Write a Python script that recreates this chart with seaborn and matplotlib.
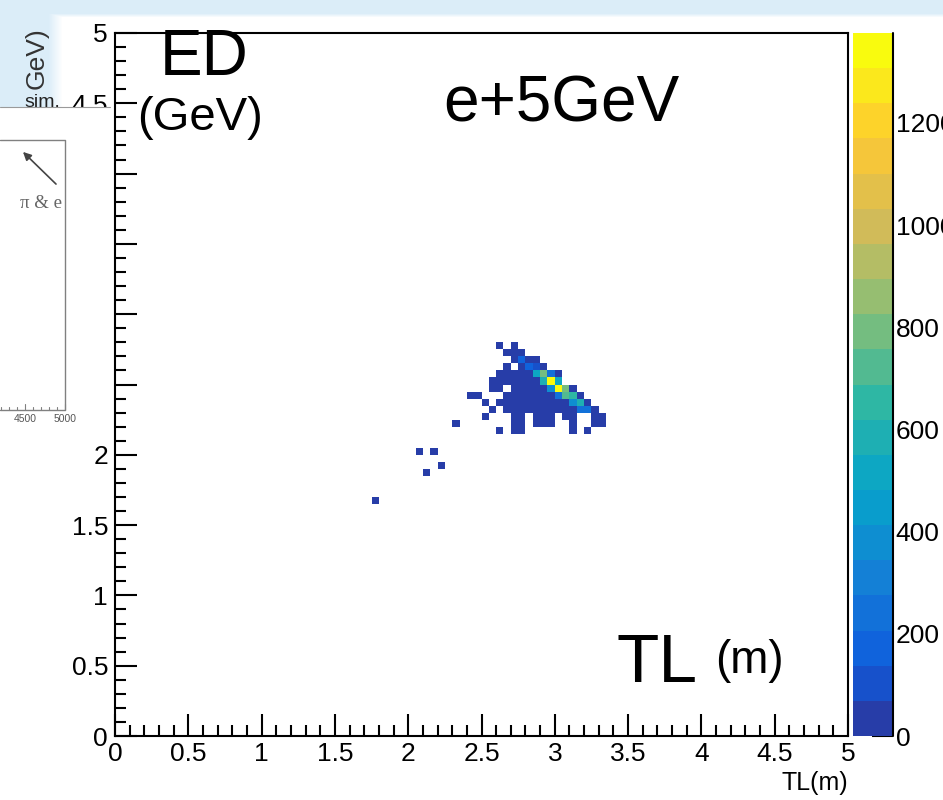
import numpy as np
import pandas as pd
import matplotlib
matplotlib.use("Agg")
import matplotlib.pyplot as plt
import seaborn as sns
from matplotlib.colors import ListedColormap, LinearSegmentedColormap
from matplotlib.patches import Rectangle, FancyArrowPatch
from matplotlib.lines import Line2D
from matplotlib.ticker import MultipleLocator, FuncFormatter

# ---------------- data ----------------
tl_centers = [2.275, 2.325, 2.375, 2.425, 2.475, 2.525, 2.575, 2.625, 2.675, 2.725, 2.775,
              2.825, 2.875, 2.925, 2.975, 3.025, 3.075, 3.125, 3.175, 3.225, 3.275, 3.325]
ed_centers = [2.775, 2.725, 2.675, 2.625, 2.575, 2.525, 2.475, 2.425, 2.375, 2.325,
              2.275, 2.225, 2.175]
counts = [
    [0, 0, 0, 0, 0, 0, 0, 18, 0, 12, 0, 0, 0, 0, 0, 0, 0, 0, 0, 0, 0, 0],
    [0, 0, 0, 0, 0, 0, 0, 0, 25, 40, 31, 0, 0, 0, 0, 0, 0, 0, 0, 0, 0, 0],
    [0, 0, 0, 0, 0, 0, 0, 0, 0, 45, 170, 52, 38, 0, 0, 0, 0, 0, 0, 0, 0, 0],
    [0, 0, 0, 0, 0, 0, 0, 0, 20, 0, 48, 190, 110, 41, 0, 0, 0, 0, 0, 0, 0, 0],
    [0, 0, 0, 0, 0, 0, 0, 22, 35, 50, 61, 58, 520, 790, 260, 55, 0, 0, 0, 0, 0, 0],
    [0, 0, 0, 0, 0, 0, 15, 28, 44, 57, 63, 66, 60, 560, 1376, 500, 0, 0, 0, 0, 0, 0],
    [0, 0, 0, 0, 0, 0, 12, 30, 0, 46, 59, 64, 62, 55, 360, 1340, 780, 47, 0, 0, 0, 0],
    [0, 0, 0, 10, 14, 0, 0, 0, 27, 43, 56, 63, 61, 58, 49, 230, 700, 640, 36, 0, 0, 0],
    [0, 0, 0, 0, 0, 11, 0, 19, 32, 41, 52, 60, 57, 53, 48, 44, 39, 400, 560, 33, 0, 0],
    [0, 0, 0, 0, 0, 0, 9, 0, 24, 38, 47, 51, 49, 45, 41, 37, 34, 30, 220, 240, 29, 0],
    [0, 0, 0, 0, 0, 13, 0, 0, 0, 26, 31, 0, 29, 33, 27, 0, 22, 25, 0, 0, 21, 17],
    [0, 11, 0, 0, 0, 0, 0, 0, 0, 19, 23, 0, 18, 21, 16, 0, 0, 14, 0, 0, 15, 12],
    [0, 0, 0, 0, 0, 0, 0, 10, 0, 16, 18, 0, 0, 0, 0, 0, 0, 13, 0, 8, 0, 0],
]
iso_tl = [2.075, 2.175, 2.225, 2.125, 1.775]
iso_ed = [2.025, 2.025, 1.925, 1.875, 1.675]
iso_counts = [9, 7, 6, 8, 5]

x_ticks = [0, 0.5, 1, 1.5, 2, 2.5, 3, 3.5, 4, 4.5, 5]
cbar_ticks = [0, 200, 400, 600, 800, 1000, 1200]

# ---------------- table ----------------
rows = []
for j, ed in enumerate(ed_centers):
    for i, tl in enumerate(tl_centers):
        if counts[j][i] > 0:
            rows.append((tl, ed, counts[j][i]))
for tl, ed, c in zip(iso_tl, iso_ed, iso_counts):
    rows.append((tl, ed, c))
df = pd.DataFrame(rows, columns=["TL", "ED", "N"])

# ---------------- style ----------------
sns.set_theme(style="white")
plt.rcParams["font.family"] = ["Liberation Sans", "DejaVu Sans"]
plt.rcParams["axes.linewidth"] = 1.5

W, H = 943, 800
fig = plt.figure(figsize=(W / 100, H / 100), dpi=100)
fig.patch.set_facecolor("white")


def fx(px):
    return px / W


def fy(py):
    return 1 - py / H


# slide background (light blue strip top / left)
bg_ax = fig.add_axes([0, 0, 1, 1], zorder=-10)
yy, xx = np.mgrid[0:H, 0:W]
w_top = np.clip((17 - yy) / 4.0, 0, 1)
w_left = np.clip((62 - xx) / 14.0, 0, 1) * np.clip((220 - yy) / 70.0, 0, 1)
wgt = np.maximum(w_top, w_left)
lb = np.array([0.86, 0.93, 0.975])
img = 1 - wgt[..., None] * (1 - lb)
bg_ax.imshow(img, aspect="auto", extent=[0, 1, 0, 1])
bg_ax.axis("off")

ax = fig.add_axes([fx(115), fy(736), fx(848) - fx(115), (736 - 33) / H])
cax = fig.add_axes([fx(853), fy(736), fx(893) - fx(853), (736 - 33) / H])
ax.set_facecolor("white")

# ROOT kBird palette, 20 contour levels
bird_stops = [0.0, 0.125, 0.25, 0.375, 0.5, 0.625, 0.75, 0.875, 1.0]
bird_r = [0.2082, 0.0592, 0.0780, 0.0232, 0.1802, 0.5301, 0.8186, 0.9956, 0.9764]
bird_g = [0.1664, 0.3599, 0.5041, 0.6419, 0.7178, 0.7492, 0.7328, 0.7862, 0.9832]
bird_b = [0.5293, 0.8684, 0.8385, 0.7914, 0.6425, 0.4662, 0.3499, 0.1968, 0.0539]
bird = LinearSegmentedColormap.from_list(
    "kBird", list(zip(bird_stops, zip(bird_r, bird_g, bird_b))), N=255)
n_levels = 20
pal_idx = [int((i + 0.99) * 255 / n_levels) for i in range(n_levels)]
cmap = ListedColormap([bird(k / 254) for k in pal_idx])

edges = np.linspace(0, 5, 101)
sns.histplot(data=df, x="TL", y="ED", weights="N", bins=[edges, edges],
             cmap=cmap, vmin=0, vmax=float(df["N"].max()),
             cbar=True, cbar_ax=cax, ax=ax)

# main axes
ax.set_xlim(0, 5)
ax.set_ylim(0, 5)
ax.set_xlabel("")
ax.set_ylabel("")
ax.set_xticks(x_ticks)
ax.set_yticks(x_ticks)
ax.xaxis.set_minor_locator(MultipleLocator(0.1))
ax.yaxis.set_minor_locator(MultipleLocator(0.1))
fmt = FuncFormatter(lambda v, p: f"{v:g}")
ax.xaxis.set_major_formatter(fmt)
ax.yaxis.set_major_formatter(fmt)
ax.tick_params(which="both", direction="in", top=False, right=False,
               bottom=True, left=True, width=1.5, color="black",
               labelcolor="black")
ax.tick_params(which="major", length=15.5, labelsize=19)
ax.tick_params(which="minor", length=8)
ax.tick_params(axis="x", pad=4)
ax.tick_params(axis="y", pad=5)
ax.grid(False)
for s in ax.spines.values():
    s.set_visible(True)
    s.set_color("black")
    s.set_linewidth(1.5)

# colorbar
cb = ax.collections[0].colorbar
cb.outline.set_visible(False)
cb.set_ticks(cbar_ticks)
cb.ax.yaxis.set_major_formatter(FuncFormatter(lambda v, p: f"{v:g}"))
cax.minorticks_off()
cax.tick_params(axis="y", direction="in", length=15, width=1.5, labelsize=19,
                pad=2, right=True, left=False, labelright=True, labelleft=False,
                color="black", labelcolor="black")
cax.plot([1, 1], [0, 1], transform=cax.transAxes, color="black", lw=1.5,
         clip_on=False)

# annotations on the chart
fig.text(fx(160), fy(75), "ED", fontsize=46, va="baseline", ha="left", color="black")
fig.text(fx(137), fy(130), "(GeV)", fontsize=34, va="baseline", ha="left", color="black")
fig.text(fx(443), fy(121), "e+5GeV", fontsize=46, va="baseline", ha="left", color="black")
fig.text(fx(616), fy(682), "TL", fontsize=50, va="baseline", ha="left", color="black")
fig.text(fx(715), fy(673), "(m)", fontsize=33, va="baseline", ha="left", color="black")
fig.text(fx(848), fy(790), "TL(m)", fontsize=18, va="baseline", ha="right", color="black")

# overlapping slide fragment on the left
fig.add_artist(Rectangle((0, fy(437)), fx(110), (437 - 107) / H,
                         transform=fig.transFigure, facecolor="white",
                         edgecolor="none", zorder=5))
fig.add_artist(Line2D([0, fx(110)], [fy(107), fy(107)], color="#9a9a9a", lw=0.8,
                      transform=fig.transFigure, zorder=6))
fig.add_artist(Line2D([0, fx(65), fx(65), 0], [fy(140), fy(140), fy(410), fy(410)],
                      color="#808080", lw=1.0, transform=fig.transFigure, zorder=6))
for k in range(9):
    xp = 65 - 8 * k
    ln = 6 if k in (0, 5) else 3
    fig.add_artist(Line2D([fx(xp), fx(xp)], [fy(410), fy(410 - ln)], color="#808080",
                          lw=0.8, transform=fig.transFigure, zorder=6))
fig.text(fx(25), fy(419), "4500", fontsize=7.5, ha="center", va="center",
         color="#555555", zorder=7)
fig.text(fx(65), fy(419), "5000", fontsize=7.5, ha="center", va="center",
         color="#555555", zorder=7)
fig.add_artist(FancyArrowPatch(posA=(fx(58), fy(186)), posB=(fx(21), fy(150)),
                               arrowstyle="-|>", mutation_scale=12, color="#444444",
                               lw=1.2, transform=fig.transFigure, zorder=6))
fig.text(fx(20), fy(208), "π & e", fontsize=13.5, family=["Liberation Serif", "DejaVu Serif"],
         color="#666666", va="baseline", zorder=7)
fig.text(fx(37), fy(58), "GeV)", rotation=90, fontsize=19, ha="center", va="center",
         color="#333333", zorder=6)
fig.text(fx(24), fy(107), "sim.", fontsize=14, va="baseline", ha="left",
         color="#222222", zorder=6)

fig.savefig("out.png", dpi=100)
